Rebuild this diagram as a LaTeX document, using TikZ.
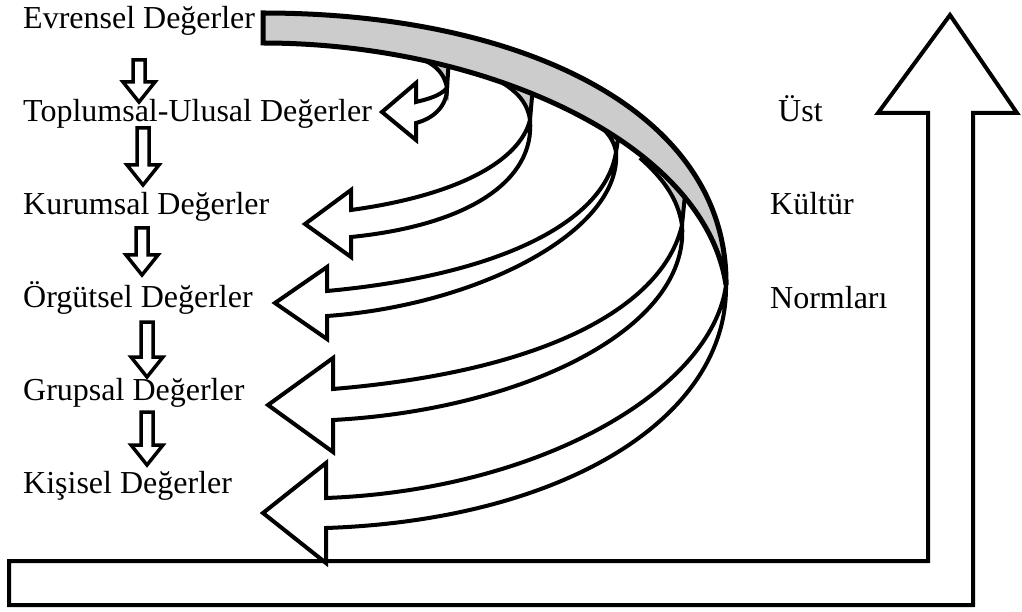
\documentclass[tikz,border=0pt]{standalone}
\usepackage{fontspec}
\setmainfont{Liberation Serif}
\usetikzlibrary{calc}
\tikzset{
  lvltext/.style={anchor=base west, inner sep=0pt, font=\fontsize{32}{36}\selectfont},
  ribbon/.style={draw, fill=white, line width=4pt},
  backface/.style={draw, fill=gray!40, line width=4pt},
  downarr/.style={draw, fill=white, line width=3.5pt,
    to path={let \p1=(\tikztostart), \p2=(\tikztotarget) in
      (\x1-6pt,\y1) -- (\x1+6pt,\y1) -- (\x1+6pt,\y2+20pt) -- (\x1+16pt,\y2+20pt)
      -- (\x1,\y2) -- (\x1-16pt,\y2+20pt) -- (\x1-6pt,\y2+20pt) -- cycle}}
}
\begin{document}
\begin{tikzpicture}[x=1pt, y=-1pt, line join=miter]
    \useasboundingbox (0,0) rectangle (1022,612);
    % Base and upward arrow
    \draw[line width=4pt, fill=white] (9,561) -- (928,561) -- (928,113) -- (878,113)
        -- (950,15) -- (1017,113) -- (973,113) -- (973,605) -- (9,605) -- cycle;
    % Back faces of the curved arrows
    \filldraw[backface] (447,88) -- (449,58) -- (384,49)
        .. controls (425,56) and (443,66) .. (447,88) -- cycle;
    \filldraw[backface] (530,120) -- (533,85) -- (480,72)
        .. controls (510,84) and (527,98) .. (530,120) -- cycle;
    \filldraw[backface] (616,152) -- (620,128) -- (570,108)
        .. controls (600,122) and (613,135) .. (616,152) -- cycle;
    \filldraw[backface] (682,225) -- (686,185) -- (640,158)
        .. controls (665,180) and (678,200) .. (682,225) -- cycle;
    % Curved arrows
    \filldraw[ribbon] (416,102) -- (416,83) -- (382,112) -- (416,140) -- (416,123)
        .. controls (435,118) and (447,105) .. (447,88)
        .. controls (440,96) and (428,99) .. (416,102) -- cycle;
    \filldraw[ribbon] (351,210) -- (351,190) -- (305,224) -- (351,257) -- (351,237)
        .. controls (470,225) and (535,180) .. (530,120)
        .. controls (520,160) and (460,195) .. (351,210) -- cycle;
    \filldraw[ribbon] (327,291) -- (327,267) -- (275,303) -- (327,339) -- (327,316)
        .. controls (480,305) and (622,230) .. (616,152)
        .. controls (605,222) and (500,275) .. (327,291) -- cycle;
    \filldraw[ribbon] (333,389) -- (333,358) -- (268,405) -- (333,452) -- (333,420)
        .. controls (520,410) and (690,330) .. (682,225)
        .. controls (665,300) and (560,370) .. (333,389) -- cycle;
    \filldraw[ribbon] (326,498) -- (326,463) -- (263,513) -- (326,563) -- (326,528)
        .. controls (560,520) and (728,420) .. (726,285)
        .. controls (712,390) and (540,490) .. (326,498) -- cycle;
    % Grey band
    \filldraw[draw, fill=gray!40, line width=5pt] (263,13)
        .. controls (520,13) and (728,110) .. (726,285)
        .. controls (704,140) and (480,43) .. (263,43) -- cycle;
    % Levels
    \node[lvltext] (ev) at (23,29) {Evrensel Değerler};
    \node[lvltext] (tu) at (23,122) {Toplumsal-Ulusal Değerler};
    \node[lvltext] (ku) at (23,215) {Kurumsal Değerler};
    \node[lvltext] (or) at (23,307) {Örgütsel Değerler};
    \node[lvltext] (gr) at (23,400) {Grupsal Değerler};
    \node[lvltext] (ki) at (23,493) {Kişisel Değerler};
    \draw[downarr] ([shift={(116,31)}]ev.base west) to ([shift={(116,-20)}]tu.base west);
    \draw[downarr] ([shift={(120,6)}]tu.base west) to ([shift={(120,-30)}]ku.base west);
    \draw[downarr] ([shift={(119,13)}]ku.base west) to ([shift={(119,-32)}]or.base west);
    \draw[downarr] ([shift={(124,15)}]or.base west) to ([shift={(124,-23)}]gr.base west);
    \draw[downarr] ([shift={(124,12)}]gr.base west) to ([shift={(124,-28)}]ki.base west);
    % Right side
    \node[lvltext] (ust) at (778,122) {Üst};
    \node[lvltext] (kul) at (770,215) {Kültür};
    \node[lvltext] (nor) at (770,308) {Normları};
\end{tikzpicture}
\end{document}
